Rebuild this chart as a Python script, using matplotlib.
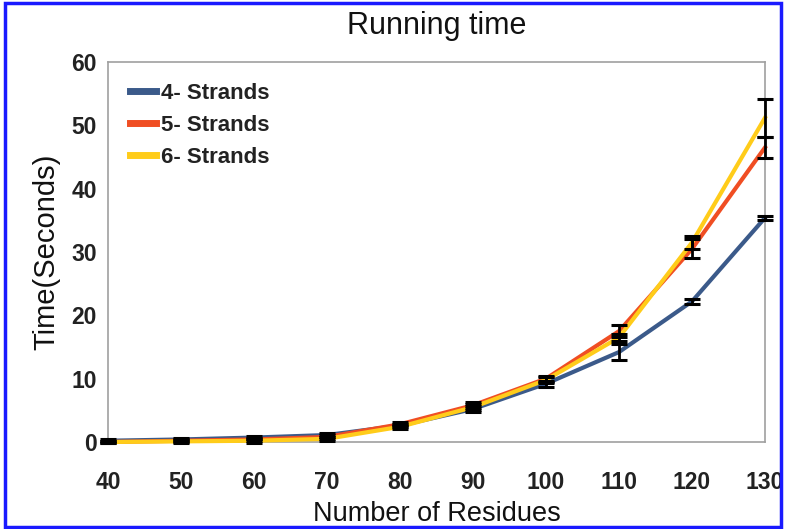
import matplotlib.pyplot as plt
from matplotlib.patches import Rectangle

plt.rcParams['font.family'] = ['Liberation Sans', 'DejaVu Sans']

residues = [40, 50, 60, 70, 80, 90, 100, 110, 120, 130]

strands4 = [0.2, 0.4, 0.7, 1.1, 2.6, 5.2, 9.2, 14.2, 22.2, 35.4]
strands4_err = [0.2, 0.2, 0.3, 0.3, 0.3, 0.5, 0.5, 1.2, 0.4, 0.3]

strands5 = [0.0, 0.2, 0.4, 0.8, 2.8, 5.8, 10.0, 17.5, 30.5, 46.5]
strands5_err = [0.2, 0.2, 0.3, 0.3, 0.3, 0.5, 0.5, 0.9, 1.5, 1.7]

strands6 = [0.0, 0.1, 0.2, 0.5, 2.4, 5.5, 9.8, 16.5, 31.5, 51.2]
strands6_err = [0.2, 0.2, 0.3, 0.3, 0.3, 0.5, 0.5, 0.5, 1.0, 3.0]

labels = ["4- Strands", "5- Strands", "6- Strands"]
colors = ["#3b5a8a", "#f04e23", "#ffcc1a"]

fig = plt.figure(figsize=(7.86, 5.29), dpi=100)
ax = fig.add_axes([108/786, 1 - 442/529, (765-108)/786, (442-62)/529])

series = [(strands4, strands4_err), (strands5, strands5_err), (strands6, strands6_err)]
for (vals, err), lab, col in zip(series, labels, colors):
    ax.plot(residues, vals, color=col, lw=3, label=lab, zorder=3, clip_on=False)
for (vals, err), col in zip(series, colors):
    ax.errorbar(residues, vals, yerr=err, fmt='none', ecolor='black',
                elinewidth=2, capsize=6, capthick=2.2, zorder=4, clip_on=False)

ax.set_xlim(40, 130)
ax.set_ylim(0, 60)
ax.set_xticks(residues)
ax.set_yticks(range(0, 61, 10))
ax.tick_params(length=0, labelsize=16.5)
ax.tick_params(axis='x', pad=21)
ax.tick_params(axis='y', pad=8)
for t in ax.get_xticklabels() + ax.get_yticklabels():
    t.set_fontweight('bold')
    t.set_color('#222222')
for s in ax.spines.values():
    s.set_color('#a0a0a0')
    s.set_linewidth(1.2)

ax.set_title("Running time", fontsize=22, pad=20, color='#111111')
ax.set_ylabel("Time(Seconds)", fontsize=21, labelpad=8, color='#111111')
ax.set_xlabel("Number of Residues", fontsize=19.5, labelpad=5, color='#111111')

leg = ax.legend(loc='upper left', frameon=False, handlelength=1.2,
                handletextpad=0.2, labelspacing=0.5, borderaxespad=0, borderpad=0,
                bbox_to_anchor=(0.033, 0.945), prop={'size': 16, 'weight': 'bold'})
for line in leg.get_lines():
    line.set_linewidth(5)
for t in leg.get_texts():
    t.set_color('#222222')

fig.patches.append(Rectangle((0.006, 0.004), 0.988, 0.99, transform=fig.transFigure,
                             fill=False, edgecolor='#1a1aff', lw=2.5, zorder=10))

fig.savefig("out.png", dpi=100)
